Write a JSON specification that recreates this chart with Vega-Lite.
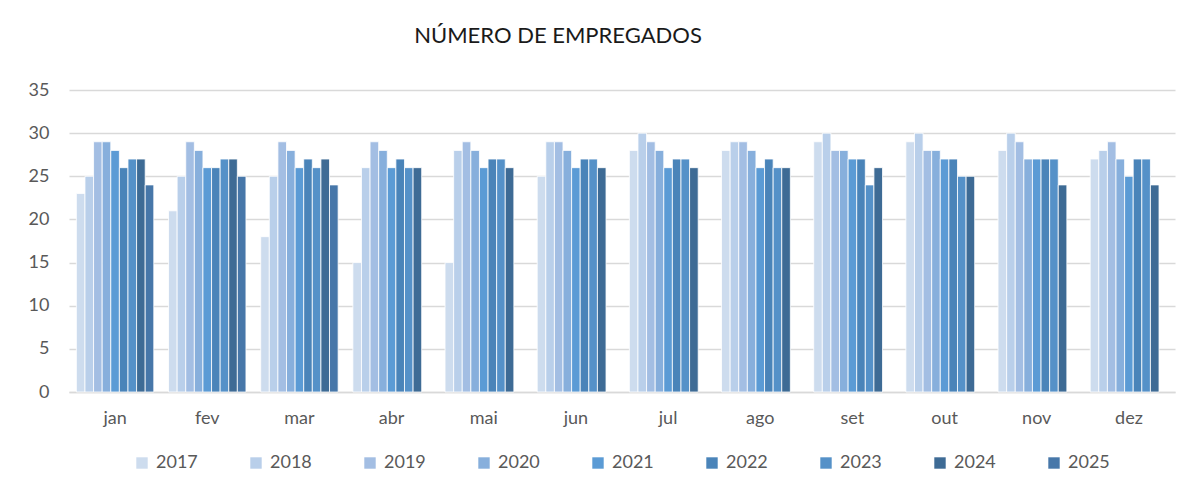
{
  "$schema": "https://vega.github.io/schema/vega-lite/v6.json",
  "width": 1106,
  "height": 302,
  "autosize": "none",
  "padding": {"left": 69, "top": 90, "right": 8, "bottom": 105},
  "background": "white",
  "title": {
    "text": "NÚMERO DE EMPREGADOS",
    "font": "Lato",
    "fontSize": 22,
    "fontWeight": "normal",
    "color": "#1a1a1a",
    "anchor": "middle",
    "dx": -64,
    "offset": 33
  },
  "datasets": {
    "d": [
      {"mes": "jan", "ano": "2017", "v": 23}, {"mes": "jan", "ano": "2018", "v": 25}, {"mes": "jan", "ano": "2019", "v": 29}, {"mes": "jan", "ano": "2020", "v": 29}, {"mes": "jan", "ano": "2021", "v": 28}, {"mes": "jan", "ano": "2022", "v": 26}, {"mes": "jan", "ano": "2023", "v": 27}, {"mes": "jan", "ano": "2024", "v": 27}, {"mes": "jan", "ano": "2025", "v": 24},
      {"mes": "fev", "ano": "2017", "v": 21}, {"mes": "fev", "ano": "2018", "v": 25}, {"mes": "fev", "ano": "2019", "v": 29}, {"mes": "fev", "ano": "2020", "v": 28}, {"mes": "fev", "ano": "2021", "v": 26}, {"mes": "fev", "ano": "2022", "v": 26}, {"mes": "fev", "ano": "2023", "v": 27}, {"mes": "fev", "ano": "2024", "v": 27}, {"mes": "fev", "ano": "2025", "v": 25},
      {"mes": "mar", "ano": "2017", "v": 18}, {"mes": "mar", "ano": "2018", "v": 25}, {"mes": "mar", "ano": "2019", "v": 29}, {"mes": "mar", "ano": "2020", "v": 28}, {"mes": "mar", "ano": "2021", "v": 26}, {"mes": "mar", "ano": "2022", "v": 27}, {"mes": "mar", "ano": "2023", "v": 26}, {"mes": "mar", "ano": "2024", "v": 27}, {"mes": "mar", "ano": "2025", "v": 24},
      {"mes": "abr", "ano": "2017", "v": 15}, {"mes": "abr", "ano": "2018", "v": 26}, {"mes": "abr", "ano": "2019", "v": 29}, {"mes": "abr", "ano": "2020", "v": 28}, {"mes": "abr", "ano": "2021", "v": 26}, {"mes": "abr", "ano": "2022", "v": 27}, {"mes": "abr", "ano": "2023", "v": 26}, {"mes": "abr", "ano": "2024", "v": 26},
      {"mes": "mai", "ano": "2017", "v": 15}, {"mes": "mai", "ano": "2018", "v": 28}, {"mes": "mai", "ano": "2019", "v": 29}, {"mes": "mai", "ano": "2020", "v": 28}, {"mes": "mai", "ano": "2021", "v": 26}, {"mes": "mai", "ano": "2022", "v": 27}, {"mes": "mai", "ano": "2023", "v": 27}, {"mes": "mai", "ano": "2024", "v": 26},
      {"mes": "jun", "ano": "2017", "v": 25}, {"mes": "jun", "ano": "2018", "v": 29}, {"mes": "jun", "ano": "2019", "v": 29}, {"mes": "jun", "ano": "2020", "v": 28}, {"mes": "jun", "ano": "2021", "v": 26}, {"mes": "jun", "ano": "2022", "v": 27}, {"mes": "jun", "ano": "2023", "v": 27}, {"mes": "jun", "ano": "2024", "v": 26},
      {"mes": "jul", "ano": "2017", "v": 28}, {"mes": "jul", "ano": "2018", "v": 30}, {"mes": "jul", "ano": "2019", "v": 29}, {"mes": "jul", "ano": "2020", "v": 28}, {"mes": "jul", "ano": "2021", "v": 26}, {"mes": "jul", "ano": "2022", "v": 27}, {"mes": "jul", "ano": "2023", "v": 27}, {"mes": "jul", "ano": "2024", "v": 26},
      {"mes": "ago", "ano": "2017", "v": 28}, {"mes": "ago", "ano": "2018", "v": 29}, {"mes": "ago", "ano": "2019", "v": 29}, {"mes": "ago", "ano": "2020", "v": 28}, {"mes": "ago", "ano": "2021", "v": 26}, {"mes": "ago", "ano": "2022", "v": 27}, {"mes": "ago", "ano": "2023", "v": 26}, {"mes": "ago", "ano": "2024", "v": 26},
      {"mes": "set", "ano": "2017", "v": 29}, {"mes": "set", "ano": "2018", "v": 30}, {"mes": "set", "ano": "2019", "v": 28}, {"mes": "set", "ano": "2020", "v": 28}, {"mes": "set", "ano": "2021", "v": 27}, {"mes": "set", "ano": "2022", "v": 27}, {"mes": "set", "ano": "2023", "v": 24}, {"mes": "set", "ano": "2024", "v": 26},
      {"mes": "out", "ano": "2017", "v": 29}, {"mes": "out", "ano": "2018", "v": 30}, {"mes": "out", "ano": "2019", "v": 28}, {"mes": "out", "ano": "2020", "v": 28}, {"mes": "out", "ano": "2021", "v": 27}, {"mes": "out", "ano": "2022", "v": 27}, {"mes": "out", "ano": "2023", "v": 25}, {"mes": "out", "ano": "2024", "v": 25},
      {"mes": "nov", "ano": "2017", "v": 28}, {"mes": "nov", "ano": "2018", "v": 30}, {"mes": "nov", "ano": "2019", "v": 29}, {"mes": "nov", "ano": "2020", "v": 27}, {"mes": "nov", "ano": "2021", "v": 27}, {"mes": "nov", "ano": "2022", "v": 27}, {"mes": "nov", "ano": "2023", "v": 27}, {"mes": "nov", "ano": "2024", "v": 24},
      {"mes": "dez", "ano": "2017", "v": 27}, {"mes": "dez", "ano": "2018", "v": 28}, {"mes": "dez", "ano": "2019", "v": 29}, {"mes": "dez", "ano": "2020", "v": 27}, {"mes": "dez", "ano": "2021", "v": 25}, {"mes": "dez", "ano": "2022", "v": 27}, {"mes": "dez", "ano": "2023", "v": 27}, {"mes": "dez", "ano": "2024", "v": 24}
    ]
  },
  "data": {"name": "d"},
  "mark": {"type": "bar", "stroke": "white", "strokeWidth": 0.8},
  "encoding": {
    "x": {
      "field": "mes",
      "type": "nominal",
      "sort": ["jan", "fev", "mar", "abr", "mai", "jun", "jul", "ago", "set", "out", "nov", "dez"],
      "scale": {"paddingInner": 0.16, "paddingOuter": 0.08},
      "axis": {
        "title": null,
        "labelAngle": 0,
        "labelFont": "Lato",
        "labelFontSize": 18,
        "labelColor": "#595959",
        "labelPadding": 17,
        "ticks": false,
        "domainColor": "#d9d9d9",
        "domainWidth": 1.5
      }
    },
    "xOffset": {
      "field": "ano",
      "type": "nominal",
      "scale": {"domain": ["2017", "2018", "2019", "2020", "2021", "2022", "2023", "2024", "2025"], "paddingInner": 0, "paddingOuter": 0}
    },
    "y": {
      "field": "v",
      "type": "quantitative",
      "scale": {"domain": [0, 35], "nice": false},
      "axis": {
        "title": null,
        "values": [0, 5, 10, 15, 20, 25, 30, 35],
        "labelFont": "Lato",
        "labelFontSize": 18,
        "labelColor": "#595959",
        "labelPadding": 20,
        "ticks": false,
        "domain": false,
        "gridColor": "#d9d9d9",
        "gridWidth": 1.3
      }
    },
    "color": {
      "field": "ano",
      "type": "nominal",
      "scale": {
        "domain": ["2017", "2018", "2019", "2020", "2021", "2022", "2023", "2024", "2025"],
        "range": ["#cddcee", "#b9cfea", "#a3bee3", "#87afdc", "#5b9bd5", "#4a84b9", "#5591c8", "#3e6b95", "#4777a9"]
      },
      "legend": {
        "title": null,
        "orient": "none",
        "legendX": 64,
        "legendY": 364,
        "direction": "horizontal",
        "columns": 9,
        "symbolType": "square",
        "symbolSize": 130,
        "symbolStrokeWidth": 0,
        "labelFont": "Lato",
        "labelFontSize": 18,
        "labelColor": "#595959",
        "labelOffset": 5,
        "columnPadding": 49,
        "gridAlign": "all"
      }
    }
  },
  "config": {
    "view": {"stroke": null},
    "font": "Lato"
  }
}
